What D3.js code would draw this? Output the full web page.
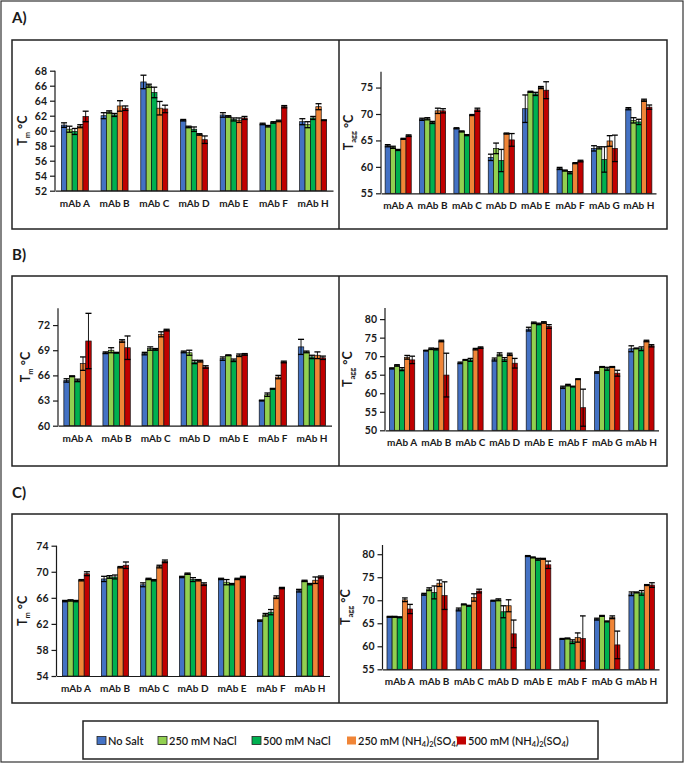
<!DOCTYPE html>
<html>
<head>
<meta charset="utf-8">
<script src="https://cdn.jsdelivr.net/npm/d3@7"></script>
<style>
  body { margin: 0; background: #fff; }
  svg { font-family: Lato, "Open Sans", sans-serif; }
</style>
</head>
<body>
<svg id="fig" width="685" height="764"></svg>
<script>
// categories
var mabs7 = ['mAb A', 'mAb B', 'mAb C', 'mAb D', 'mAb E', 'mAb F', 'mAb H'];
var mabs8 = ['mAb A', 'mAb B', 'mAb C', 'mAb D', 'mAb E', 'mAb F', 'mAb G', 'mAb H'];
// legend names, as [text, isSubscript] pieces
var seriesNames = [
  [['No Salt', 0]],
  [['250 mM NaCl', 0]],
  [['500 mM NaCl', 0]],
  [['250 mM (NH', 0], ['4', 1], [')', 0], ['2', 1], ['(SO', 0], ['4', 1], [')', 0]],
  [['500 mM (NH', 0], ['4', 1], [')', 0], ['2', 1], ['(SO', 0], ['4', 1], [')', 0]]
];
var seriesColors = ['#4472C4', '#92D050', '#00B050', '#F08537', '#C00000'];

// panel A, Tm (rows = mAb, cols = series)
var aTm = [[60.75, 60.2, 59.9, 60.6, 61.9], [62.0, 62.5, 62.1, 63.3, 63.0], [66.5, 66.0, 65.1, 63.0, 62.9],
  [61.4, 60.5, 60.2, 59.5, 58.8], [62.1, 61.9, 61.5, 61.4, 61.7], [60.9, 60.6, 61.1, 61.3, 63.2], [61.2, 60.8, 61.7, 63.2, 61.4]];
var aTmErr = [[0.3, 0.4, 0.4, 0.2, 0.7], [0.4, 0.15, 0.2, 0.7, 0.3], [0.9, 0.2, 0.7, 0.9, 0.5],
  [0.1, 0.1, 0.3, 0.1, 0.5], [0.3, 0.1, 0.2, 0.3, 0.2], [0.1, 0.1, 0.1, 0.1, 0.15], [0.4, 0.4, 0.2, 0.4, 0.05]];
// panel A, Tagg
var aTagg = [[64.0, 63.7, 63.2, 65.3, 65.9], [69.0, 69.1, 68.4, 70.6, 70.6], [67.3, 66.7, 66.0, 69.8, 70.8],
  [61.8, 63.5, 61.2, 66.3, 65.1], [71.0, 74.2, 73.8, 75.0, 74.5], [59.7, 59.3, 58.9, 60.7, 61.1],
  [63.5, 63.6, 61.4, 64.9, 63.5], [71.0, 68.8, 68.5, 72.6, 71.3]];
var aTaggErr = [[0.2, 0.2, 0.1, 0.1, 0.15], [0.2, 0.2, 0.2, 0.5, 0.4], [0.1, 0.1, 0.1, 0.1, 0.3],
  [0.6, 1.0, 2.1, 0.1, 1.2], [2.6, 0.1, 0.3, 0.2, 1.6], [0.2, 0.1, 0.2, 0.1, 0.15],
  [0.5, 0.2, 2.4, 1.0, 2.5], [0.2, 0.5, 0.5, 0.2, 0.4]];
// panel B, Tm
var bTm = [[65.4, 65.9, 65.4, 67.4, 70.1], [68.7, 69.0, 68.7, 70.1, 69.3], [68.6, 69.2, 69.1, 70.9, 71.4],
  [68.8, 68.7, 67.6, 67.7, 67.0], [68.0, 68.4, 67.8, 68.4, 68.5], [63.0, 63.7, 64.4, 65.8, 67.6], [69.4, 68.8, 68.2, 68.4, 68.1]];
var bTmErr = [[0.2, 0.05, 0.15, 0.8, 3.3], [0.1, 0.3, 0.05, 0.15, 1.4], [0.15, 0.2, 0.1, 0.3, 0.1],
  [0.1, 0.3, 0.2, 0.1, 0.15], [0.2, 0.05, 0.15, 0.15, 0.1], [0.05, 0.2, 0.05, 0.2, 0.1], [0.9, 0.1, 0.2, 0.4, 0.2]];
// panel B, Tagg
var bTagg = [[66.7, 67.5, 66.5, 69.7, 69.0], [71.5, 72.0, 71.9, 74.1, 64.9], [68.2, 69.0, 69.0, 71.9, 72.3],
  [69.1, 70.5, 69.1, 70.5, 68.1], [77.3, 79.0, 78.7, 79.1, 78.0], [61.6, 62.2, 61.8, 63.8, 56.1],
  [65.6, 67.1, 66.6, 67.1, 65.4], [72.0, 72.1, 72.0, 74.1, 72.8]];
var bTaggErr = [[0.15, 0.2, 0.4, 0.5, 1.0], [0.1, 0.2, 0.2, 0.2, 5.9], [0.2, 0.1, 0.4, 0.2, 0.2],
  [0.4, 0.4, 0.5, 0.3, 1.3], [0.5, 0.2, 0.2, 0.2, 0.5], [0.3, 0.2, 0.1, 0.1, 5.0],
  [0.2, 0.1, 0.4, 0.1, 0.8], [0.8, 0.1, 0.5, 0.2, 0.3]];
// panel C, Tm
var cTm = [[65.5, 65.6, 65.5, 68.7, 69.7], [68.9, 69.2, 69.2, 70.7, 71.0], [68.0, 68.9, 68.7, 70.8, 71.6],
  [69.2, 69.7, 68.8, 68.7, 68.1], [68.9, 68.4, 68.1, 68.9, 69.2], [62.5, 63.4, 63.8, 66.1, 67.5], [67.1, 68.6, 68.1, 68.7, 69.2]];
var cTmErr = [[0.1, 0.1, 0.1, 0.1, 0.3], [0.4, 0.2, 0.3, 0.1, 0.5], [0.3, 0.1, 0.1, 0.2, 0.2],
  [0.1, 0.1, 0.3, 0.1, 0.2], [0.1, 0.4, 0.1, 0.1, 0.1], [0.1, 0.2, 0.4, 0.2, 0.1], [0.2, 0.1, 0.1, 0.5, 0.15]];
// panel C, Tagg
var cTagg = [[66.4, 66.4, 66.3, 70.1, 68.1], [71.3, 72.4, 71.7, 73.7, 71.0], [68.0, 69.1, 68.8, 70.6, 72.0],
  [69.9, 70.1, 67.5, 68.8, 62.7], [79.6, 79.3, 78.9, 79.0, 77.7], [61.6, 61.7, 61.0, 61.9, 61.7],
  [65.9, 66.6, 65.4, 66.3, 60.3], [71.4, 71.7, 71.6, 73.3, 73.3]];
var cTaggErr = [[0.1, 0.1, 0.1, 0.4, 1.0], [0.2, 0.3, 1.4, 0.7, 3.0], [0.3, 0.1, 0.1, 0.8, 0.4],
  [0.1, 0.2, 1.3, 1.3, 3.0], [0.1, 0.1, 0.2, 0.1, 0.8], [0.1, 0.1, 0.4, 1.0, 4.9],
  [0.2, 0.1, 0.1, 0.3, 3.0], [0.4, 0.1, 0.5, 0.1, 0.5]];

var svg = d3.select('#fig');
var ink = '#1a1a1a';

// outer frame + panel boxes
svg.append('rect').attr('x', 1).attr('y', 1).attr('width', 682).attr('height', 761)
  .attr('fill', 'none').attr('stroke', '#333').attr('stroke-width', 1.2);

var rows = [{label: 'A)', ly: 23, top: 40, bottom: 229},
            {label: 'B)', ly: 260, top: 276, bottom: 466},
            {label: 'C)', ly: 498, top: 514, bottom: 703}];
rows.forEach(function(r) {
  svg.append('text').attr('x', 12).attr('y', r.ly).text(r.label)
    .attr('font-size', 15).attr('font-weight', 'bold').attr('fill', ink);
  svg.append('rect').attr('x', 12).attr('y', r.top).attr('width', 655).attr('height', r.bottom - r.top)
    .attr('fill', 'none').attr('stroke', '#222').attr('stroke-width', 1.5);
  svg.append('line').attr('x1', 339).attr('x2', 339).attr('y1', r.top).attr('y2', r.bottom)
    .attr('stroke', '#222').attr('stroke-width', 1.5);
});

function drawPanel(opt) {
  var cats = opt.cats;
  var x = d3.scaleBand().domain(cats).range([opt.x0, opt.x1]);
  var inner = d3.scaleBand().domain(d3.range(5)).range([0, x.bandwidth() * opt.groupFrac]);
  var y = d3.scaleLinear().domain(opt.domain).range([opt.yb, opt.yt]);
  var g = svg.append('g');
  var off = (x.bandwidth() - inner.range()[1]) / 2;

  // bars
  var groups = g.selectAll('g.grp').data(cats).enter().append('g')
    .attr('transform', function(d) { return 'translate(' + (x(d) + off) + ',0)'; });
  groups.each(function(c, ci) {
    var grp = d3.select(this);
    var vals = opt.vals[ci];
    var errs = opt.errs[ci];
    vals.forEach(function(v, si) {
      var bx = inner(si), bw = inner.bandwidth();
      grp.append('rect')
        .attr('x', bx).attr('width', bw)
        .attr('y', y(v)).attr('height', y(opt.domain[0]) - y(v))
        .attr('fill', seriesColors[si]).attr('stroke', '#111').attr('stroke-width', 0.7);
      var e = errs[si];
      var cx = bx + bw / 2;
      var yHi = y(v + e), yLo = y(v - e);
      grp.append('line').attr('x1', cx).attr('x2', cx).attr('y1', yHi).attr('y2', yLo)
        .attr('stroke', '#000').attr('stroke-width', 0.9);
      [yHi, yLo].forEach(function(yy) {
        grp.append('line').attr('x1', cx - bw / 2 - 0.3).attr('x2', cx + bw / 2 + 0.3)
          .attr('y1', yy).attr('y2', yy).attr('stroke', '#000').attr('stroke-width', 1.3);
      });
    });
  });

  // y axis
  var yAxis = d3.axisLeft(y).tickValues(opt.ticks).tickSize(5).tickPadding(3).tickFormat(d3.format('d'));
  var ya = g.append('g').attr('transform', 'translate(' + opt.x0 + ',0)').call(yAxis);
  ya.select('.domain').attr('stroke', ink).attr('stroke-width', 1.2).attr('d', 'M0,' + opt.yt + 'V' + opt.yb);
  ya.selectAll('.tick line').attr('stroke', ink).attr('stroke-width', 1.2);
  ya.selectAll('.tick text').attr('font-size', 10.5).attr('font-weight', 'bold').attr('fill', ink)
    .attr('font-family', 'Lato, sans-serif');

  // x axis
  var xAxis = d3.axisBottom(x).tickSize(0).tickPadding(9);
  var xa = g.append('g').attr('transform', 'translate(0,' + opt.yb + ')').call(xAxis);
  xa.select('.domain').attr('stroke', ink).attr('stroke-width', 1.2);
  xa.selectAll('.tick text').attr('font-size', 10).attr('font-weight', 'bold').attr('fill', ink)
    .attr('font-family', 'Lato, sans-serif');

  // y title
  var t = g.append('text')
    .attr('transform', 'translate(' + opt.tx + ',' + ((opt.yt + opt.yb) / 2) + ') rotate(-90)')
    .attr('text-anchor', 'middle').attr('font-size', 12.5).attr('font-weight', 'bold').attr('fill', ink);
  t.append('tspan').text('T');
  t.append('tspan').text(opt.sub).attr('font-size', 7.5).attr('dy', 3);
  t.append('tspan').text(' °C').attr('dy', -3);
}

drawPanel({cats: mabs7, vals: aTm, errs: aTmErr, domain: [52, 68], ticks: d3.range(52, 69, 2),
  x0: 55, x1: 333, yt: 70.7, yb: 190.7, groupFrac: 0.68, tx: 27, sub: 'm'});
drawPanel({cats: mabs8, vals: aTagg, errs: aTaggErr, domain: [55, 78], ticks: [55, 60, 65, 70, 75],
  x0: 381, x1: 656, yt: 71.7, yb: 193.3, groupFrac: 0.76, tx: 353, sub: 'agg'});
drawPanel({cats: mabs7, vals: bTm, errs: bTmErr, domain: [60, 74], ticks: [60, 63, 66, 69, 72],
  x0: 58, x1: 331.5, yt: 308.3, yb: 425.7, groupFrac: 0.7, tx: 30, sub: 'm'});
drawPanel({cats: mabs8, vals: bTagg, errs: bTaggErr, domain: [50, 83], ticks: d3.range(50, 81, 5),
  x0: 385, x1: 658.5, yt: 308, yb: 430.3, groupFrac: 0.74, tx: 352, sub: 'agg'});
drawPanel({cats: mabs7, vals: cTm, errs: cTmErr, domain: [54, 74], ticks: d3.range(54, 75, 4),
  x0: 56.5, x1: 329.5, yt: 545.7, yb: 676, groupFrac: 0.7, tx: 27, sub: 'm'});
drawPanel({cats: mabs8, vals: cTagg, errs: cTaggErr, domain: [55, 82], ticks: d3.range(55, 81, 5),
  x0: 382.5, x1: 659, yt: 545, yb: 669.3, groupFrac: 0.74, tx: 350, sub: 'agg'});

// legend
svg.append('rect').attr('x', 83).attr('y', 721).attr('width', 515).attr('height', 38)
  .attr('fill', 'none').attr('stroke', '#222').attr('stroke-width', 1.5);
var legX = [97, 158, 252, 347, 457];
var leg = svg.append('g').selectAll('g').data(seriesNames).enter().append('g')
  .attr('transform', function(d, i) { return 'translate(' + legX[i] + ',736)'; });
leg.append('rect').attr('width', 9).attr('height', 8).attr('y', 0.5)
  .attr('fill', function(d, i) { return seriesColors[i]; })
  .attr('stroke', function(d, i) { return i < 3 ? '#222' : 'none'; }).attr('stroke-width', 0.8);
var lt = leg.append('text').attr('x', 11).attr('y', 9)
  .attr('font-size', 11).attr('font-weight', 600).attr('fill', ink);
lt.each(function(pieces) {
  var el = d3.select(this);
  var shifted = false;
  pieces.forEach(function(p) {
    var ts = el.append('tspan').text(p[0]);
    if (p[1]) {
      ts.attr('font-size', 7.5).attr('dy', shifted ? 0 : 2);
      shifted = true;
    } else {
      if (shifted) { ts.attr('dy', -2); }
      shifted = false;
    }
  });
});
</script>
</body>
</html>
